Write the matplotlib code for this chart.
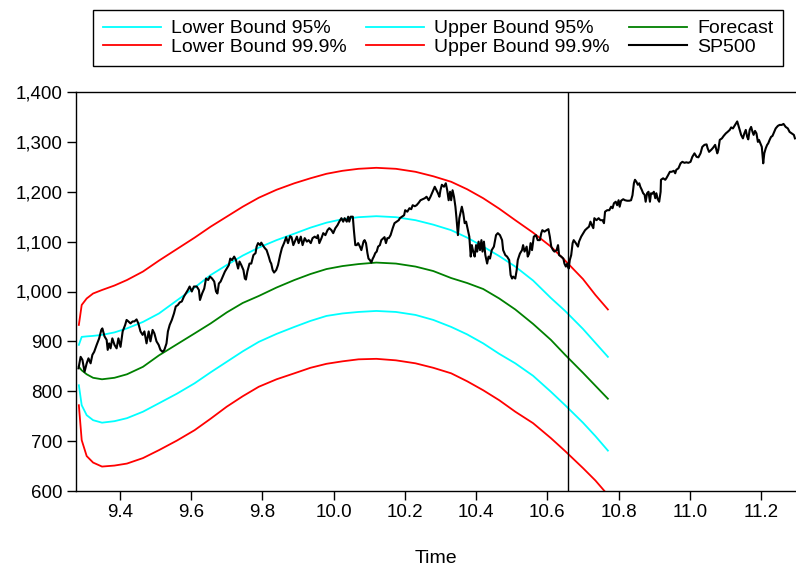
"""
Forecast bands for the SP500 index, redrawn with matplotlib.
Saves the figure to out.png (no display needed).
"""

import matplotlib

matplotlib.use("Agg")
import matplotlib.pyplot as plt  # noqa: E402
from matplotlib.ticker import FuncFormatter, MultipleLocator  # noqa: E402

# Time grid the forecast bands were read on (fractional year, 2000 = 0).
band_time = [9.285, 9.293, 9.307, 9.325, 9.35, 9.385, 9.42, 9.465, 9.51, 9.56,
             9.61, 9.655, 9.70, 9.745, 9.79, 9.84, 9.89, 9.935, 9.98, 10.025,
             10.07, 10.12, 10.175, 10.23, 10.28, 10.33, 10.375, 10.42, 10.465, 10.51,
             10.56, 10.61, 10.65, 10.70, 10.735, 10.77]

forecast = [849, 842, 834, 827, 824, 827, 834, 849, 872, 894,
            916, 936, 958, 977, 991, 1008, 1023, 1035, 1045, 1051,
            1055, 1058, 1056, 1050, 1041, 1027, 1017, 1005, 986, 964,
            935, 903, 873, 837, 811, 785]
upper_95 = [893, 909, 910, 911, 913, 918, 926, 939, 956, 982,
            1008, 1033, 1053, 1072, 1088, 1103, 1116, 1128, 1138, 1145,
            1149, 1151, 1149, 1143, 1134, 1123, 1108, 1090, 1071, 1050,
            1022, 987, 961, 925, 897, 869]
lower_95 = [812, 772, 752, 742, 737, 740, 746, 759, 776, 795,
            816, 838, 859, 880, 899, 915, 929, 941, 951, 956,
            959, 961, 959, 953, 943, 929, 914, 896, 875, 856,
            831, 799, 772, 737, 710, 681]
upper_999 = [933, 973, 986, 996, 1003, 1012, 1023, 1040, 1062, 1085,
             1108, 1130, 1150, 1170, 1188, 1204, 1217, 1227, 1236, 1242,
             1246, 1248, 1246, 1240, 1231, 1220, 1205, 1187, 1166, 1143,
             1118, 1090, 1062, 1025, 993, 964]
lower_999 = [772, 702, 670, 657, 649, 651, 655, 666, 682, 701,
             722, 745, 769, 790, 809, 824, 836, 847, 855, 860,
             864, 865, 862, 856, 847, 836, 820, 802, 782, 759,
             736, 706, 680, 646, 621, 592]

# Where the forecast starts (vertical marker).
forecast_origin = 10.657

# SP500 closes.
sp500_time = [
    9.284, 9.290, 9.295, 9.301, 9.307, 9.312, 9.318, 9.323, 9.328, 9.335, 9.342, 9.348,
    9.351, 9.357, 9.363, 9.366, 9.370, 9.374, 9.379, 9.385, 9.391, 9.396, 9.402, 9.408,
    9.415, 9.419, 9.424, 9.430, 9.436, 9.441, 9.447, 9.452, 9.458, 9.464, 9.469, 9.475,
    9.481, 9.486, 9.492, 9.497, 9.503, 9.509, 9.514, 9.520, 9.525, 9.531, 9.535, 9.540,
    9.546, 9.552, 9.557, 9.563, 9.568, 9.574, 9.580, 9.585, 9.591, 9.596, 9.602, 9.608,
    9.616, 9.622, 9.625, 9.631, 9.637, 9.642, 9.648, 9.653, 9.659, 9.665, 9.670, 9.674,
    9.678, 9.683, 9.689, 9.695, 9.700, 9.706, 9.710, 9.715, 9.721, 9.726, 9.732, 9.736,
    9.741, 9.747, 9.751, 9.754, 9.758, 9.764, 9.769, 9.775, 9.781, 9.784, 9.788, 9.794,
    9.797, 9.803, 9.807, 9.812, 9.818, 9.822, 9.825, 9.829, 9.833, 9.839, 9.844, 9.850,
    9.855, 9.861, 9.867, 9.872, 9.878, 9.882, 9.887, 9.891, 9.897, 9.902, 9.908, 9.913,
    9.919, 9.925, 9.930, 9.936, 9.941, 9.947, 9.953, 9.956, 9.960, 9.966, 9.971, 9.977,
    9.983, 9.988, 9.994, 9.999, 10.005, 10.011, 10.016, 10.022, 10.027, 10.031, 10.037, 10.041,
    10.044, 10.048, 10.054, 10.057, 10.061, 10.065, 10.069, 10.074, 10.078, 10.084, 10.087, 10.091,
    10.095, 10.098, 10.102, 10.106, 10.110, 10.113, 10.117, 10.121, 10.125, 10.130, 10.134, 10.140,
    10.143, 10.147, 10.151, 10.155, 10.160, 10.166, 10.171, 10.177, 10.183, 10.186, 10.192, 10.198,
    10.201, 10.207, 10.213, 10.218, 10.222, 10.228, 10.233, 10.239, 10.244, 10.250, 10.256, 10.261,
    10.267, 10.272, 10.278, 10.284, 10.293, 10.297, 10.300, 10.304, 10.310, 10.315, 10.319, 10.323,
    10.327, 10.330, 10.334, 10.338, 10.342, 10.345, 10.349, 10.353, 10.357, 10.360, 10.364, 10.368,
    10.372, 10.377, 10.381, 10.385, 10.388, 10.392, 10.396, 10.400, 10.403, 10.407, 10.411, 10.415,
    10.418, 10.422, 10.426, 10.431, 10.435, 10.439, 10.444, 10.450, 10.456, 10.461, 10.467, 10.473,
    10.476, 10.482, 10.487, 10.493, 10.497, 10.501, 10.504, 10.510, 10.514, 10.517, 10.523, 10.529,
    10.532, 10.536, 10.542, 10.545, 10.549, 10.553, 10.557, 10.562, 10.568, 10.573, 10.579, 10.583,
    10.586, 10.592, 10.598, 10.603, 10.607, 10.611, 10.616, 10.620, 10.626, 10.630, 10.633, 10.639,
    10.645, 10.648, 10.652, 10.656, 10.660, 10.663, 10.667, 10.671, 10.674, 10.680, 10.686, 10.689,
    10.695, 10.701, 10.706, 10.712, 10.717, 10.721, 10.725, 10.729, 10.732, 10.738, 10.744, 10.749,
    10.755, 10.759, 10.762, 10.768, 10.774, 10.779, 10.783, 10.787, 10.792, 10.796, 10.800, 10.803,
    10.807, 10.813, 10.818, 10.824, 10.830, 10.835, 10.839, 10.843, 10.846, 10.850, 10.854, 10.858,
    10.861, 10.865, 10.869, 10.873, 10.876, 10.880, 10.884, 10.888, 10.891, 10.895, 10.899, 10.903,
    10.906, 10.910, 10.914, 10.918, 10.919, 10.925, 10.931, 10.934, 10.938, 10.944, 10.949, 10.955,
    10.959, 10.962, 10.968, 10.974, 10.979, 10.985, 10.990, 10.996, 11.002, 11.007, 11.013, 11.019,
    11.024, 11.030, 11.035, 11.041, 11.047, 11.050, 11.054, 11.060, 11.065, 11.071, 11.077, 11.080,
    11.084, 11.090, 11.095, 11.101, 11.106, 11.112, 11.116, 11.121, 11.127, 11.133, 11.136, 11.140,
    11.144, 11.149, 11.153, 11.157, 11.161, 11.164, 11.168, 11.172, 11.176, 11.179, 11.183, 11.187,
    11.191, 11.194, 11.198, 11.202, 11.206, 11.209, 11.213, 11.217, 11.220, 11.224, 11.228, 11.232,
    11.235, 11.241, 11.247, 11.252, 11.258, 11.263, 11.269, 11.275, 11.280, 11.286, 11.292, 11.295,
]
sp500_value = [
    846, 869, 863, 839, 856, 866, 856, 873, 879, 893, 906, 923,
    926, 910, 903, 883, 896, 886, 906, 893, 886, 906, 889, 920,
    933, 943, 940, 936, 940, 940, 944, 936, 920, 913, 920, 896,
    920, 900, 923, 916, 900, 893, 883, 879, 883, 896, 920, 933,
    943, 956, 970, 973, 978, 980, 990, 996, 1003, 1010, 1000, 1010,
    1010, 1003, 983, 996, 1006, 1026, 1023, 1030, 1026, 1020, 1000, 996,
    1016, 1020, 1030, 1040, 1046, 1053, 1066, 1063, 1070, 1063, 1046, 1060,
    1053, 1043, 1026, 1024, 1040, 1056, 1056, 1073, 1077, 1090, 1097, 1093,
    1098, 1091, 1087, 1083, 1070, 1060, 1056, 1043, 1038, 1043, 1053, 1073,
    1087, 1097, 1109, 1097, 1111, 1109, 1093, 1100, 1110, 1097, 1110, 1093,
    1107, 1100, 1103, 1097, 1107, 1110, 1107, 1113, 1097, 1107, 1117, 1113,
    1123, 1127, 1123, 1117, 1127, 1133, 1140, 1147, 1140, 1147, 1140, 1150,
    1140, 1150, 1150, 1123, 1093, 1093, 1097, 1090, 1083, 1100, 1103, 1097,
    1077, 1066, 1063, 1058, 1066, 1070, 1077, 1080, 1090, 1093, 1103, 1107,
    1109, 1097, 1107, 1107, 1113, 1127, 1137, 1140, 1143, 1147, 1150, 1153,
    1163, 1160, 1167, 1165, 1173, 1171, 1173, 1178, 1183, 1185, 1187, 1190,
    1183, 1190, 1200, 1210, 1197, 1190, 1203, 1214, 1210, 1217, 1203, 1183,
    1200, 1183, 1203, 1190, 1170, 1147, 1113, 1147, 1160, 1170, 1157, 1137,
    1140, 1123, 1110, 1070, 1093, 1080, 1070, 1093, 1080, 1100, 1083, 1103,
    1080, 1100, 1073, 1056, 1070, 1066, 1083, 1090, 1113, 1117, 1113, 1103,
    1083, 1073, 1070, 1063, 1033, 1026, 1030, 1026, 1043, 1063, 1076, 1083,
    1093, 1080, 1090, 1070, 1076, 1097, 1083, 1110, 1113, 1103, 1103, 1117,
    1123, 1120, 1123, 1125, 1110, 1090, 1083, 1080, 1083, 1093, 1073, 1070,
    1066, 1056, 1050, 1056, 1046, 1063, 1073, 1097, 1103, 1097, 1090, 1100,
    1110, 1117, 1123, 1127, 1130, 1140, 1133, 1127, 1147, 1143, 1147, 1143,
    1143, 1137, 1160, 1163, 1163, 1170, 1167, 1177, 1180, 1173, 1183, 1170,
    1182, 1185, 1183, 1182, 1182, 1183, 1193, 1217, 1224, 1220, 1214, 1217,
    1210, 1204, 1197, 1194, 1180, 1197, 1200, 1180, 1197, 1196, 1200, 1187,
    1197, 1185, 1180, 1200, 1224, 1227, 1224, 1227, 1232, 1240, 1240, 1242,
    1237, 1244, 1247, 1257, 1260, 1258, 1259, 1258, 1260, 1270, 1277, 1270,
    1269, 1277, 1290, 1294, 1295, 1287, 1280, 1284, 1288, 1294, 1277, 1284,
    1304, 1307, 1312, 1317, 1320, 1324, 1329, 1327, 1334, 1341, 1334, 1324,
    1314, 1307, 1317, 1324, 1310, 1305, 1324, 1330, 1320, 1314, 1322, 1317,
    1300, 1304, 1297, 1290, 1257, 1277, 1287, 1294, 1297, 1304, 1310, 1312,
    1317, 1327, 1332, 1334, 1334, 1336, 1330, 1327, 1320, 1317, 1314, 1307,
]

plt.rcParams["font.family"] = ["Liberation Sans", "DejaVu Sans"]

fig = plt.figure(figsize=(7.96, 5.66), dpi=100)
ax = fig.add_axes([76 / 796, 1 - 491 / 566, 720 / 796, 399 / 566])

# Band lines first, the index on top.
ax.plot(band_time, lower_95, color="#00ffff", lw=1.3, label="Lower Bound 95%")
ax.plot(band_time, lower_999, color="#ff0000", lw=1.3, label="Lower Bound 99.9%")
ax.plot(band_time, upper_95, color="#00ffff", lw=1.3, label="Upper Bound 95%")
ax.plot(band_time, upper_999, color="#ff0000", lw=1.3, label="Upper Bound 99.9%")
ax.plot(band_time, forecast, color="#008000", lw=1.3, label="Forecast")
ax.plot(sp500_time, sp500_value, color="black", lw=1.5, label="SP500")
ax.axvline(forecast_origin, color="black", lw=1.0)

ax.set_xlim(9.277, 11.298)
ax.set_ylim(600, 1400)
ax.xaxis.set_major_locator(MultipleLocator(0.2))
ax.xaxis.set_major_formatter(FuncFormatter(lambda v, _: f"{v:.1f}"))
ax.yaxis.set_major_locator(MultipleLocator(100))
ax.yaxis.set_major_formatter(FuncFormatter(lambda v, _: f"{v:,.0f}"))
ax.tick_params(axis="both", labelsize=13.5, length=6.5, width=1.0, direction="out", pad=3)
ax.spines["right"].set_visible(False)
for side in ("left", "top", "bottom"):
    ax.spines[side].set_linewidth(1.0)

ax.set_xlabel("Time", fontsize=14, labelpad=20.5)

fig.legend(loc="upper center", bbox_to_anchor=(438 / 796, 1 - 10 / 566), ncol=3,
           fontsize=14, frameon=True, fancybox=False, edgecolor="black",
           framealpha=1, handlelength=3.0, handletextpad=0.5, columnspacing=1.0,
           labelspacing=0.05, borderpad=0.5, borderaxespad=0)

fig.savefig("out.png", dpi=100)
plt.close(fig)
